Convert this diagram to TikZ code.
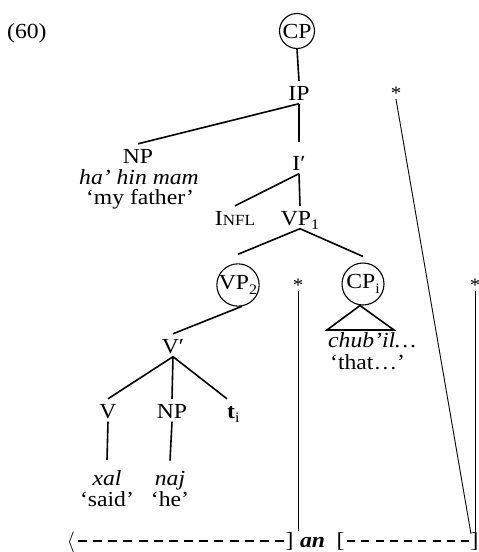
\documentclass[tikz,border=0pt]{standalone}
\usepackage{fontspec}
\setmainfont{Liberation Serif}[FakeStretch=1.1]
\newcommand\lsub[1]{\raisebox{-4.5pt}{\fontsize{14.5}{14.5}\selectfont #1}}
\begin{document}
\begin{tikzpicture}[x=1pt,y=-1pt,
  font=\fontsize{21.5}{18}\selectfont,
  cat/.style={inner xsep=0pt, inner ysep=3.5pt, text height=15.5pt, text depth=0pt, anchor=base},
  gl/.style={inner sep=0pt, anchor=base},
  circ/.style={draw, circle, line width=1.1pt, inner sep=0pt},
  edge/.style={line width=1.6pt},
  thinline/.style={line width=0.9pt},
  star/.style={inner sep=0pt, anchor=base, font=\fontsize{19}{19}\selectfont, text depth=0pt},
  dashline/.style={line width=1.4pt}
]
\useasboundingbox (0,0) rectangle (479,552);

% label
\node[gl, anchor=base west] (ex) at (7,38) {(60)};

% tree
\node[circ, minimum size=35pt] (CP) at (297,31) {CP};
\node[cat] (IP) at (299,100) {IP};
\node[cat] (NP1) at (138,163) {NP};
\node[gl] (ha) at (139,184) {\itshape ha' hin mam};
\node[gl] (myf) at (140,204) {`my father'};
\node[cat] (Ibar) at (299,170) {I\char"2032};
\node[cat] (Infl) at (235,225) {I{\fontsize{15.5}{15.5}\selectfont NFL}};
\node[cat] (VP1) at (300,225) {VP\lsub{1}};
\node[circ, minimum size=42pt] (VP2) at (238,285) {VP\lsub{2}};
\node[circ, minimum size=42pt] (CPi) at (363,284) {CP\lsub{i}};
\node[cat] (Vbar) at (173,353) {V\char"2032};
\node[cat] (V) at (108,418) {V};
\node[cat] (NP2) at (172,418) {NP};
\node[cat, anchor=base west] (ti) at (227,418) {\textbf{t}\lsub{i}};
\node[gl] (xal) at (107,485) {\itshape xal};
\node[gl] (said) at (107,506) {`said'};
\node[gl] (naj) at (170,485) {\itshape naj};
\node[gl] (he) at (170,506) {`he'};
\node[gl, anchor=base west] (chub) at (328,347) {\itshape chub'il…};
\node[gl, anchor=base west] (that) at (330,369) {`that…'};

% stars
\node[star] (s1) at (396,99) {*};
\node[star] (s2) at (298,291) {*};
\node[star] (s3) at (475,291) {*};

% bottom line
\node[gl] (lang) at (71,547) {$\langle$};
\node[gl] (rb1) at (289.5,547) {]};
\node[gl] (an) at (312.5,547) {\bfseries\itshape an};
\node[gl] (lb2) at (340.5,547) {[};
\node[gl] (rb2) at (474.5,547) {]};

\coordinate (d1a) at (78,541);
\coordinate (d1b) at (284,541);
\coordinate (d2a) at (347,541);
\coordinate (d2b) at (469,541);
\draw[dashline, dash pattern=on 9pt off 6.15pt] (d1a) -- (d1b);
\draw[dashline, dash pattern=on 8pt off 6.25pt] (d2a) -- (d2b);

% tree edges
\draw[edge] (CP.south) -- (IP.north);
\draw[edge] (IP.south) -- (NP1.north);
\draw[edge] (IP.south) -- ([yshift=9pt]Ibar.north);
\draw[edge] (Ibar.south) -- (Infl.north);
\draw[edge] (Ibar.south) -- (VP1.north);
\draw[edge] (VP1.south) -- ([yshift=9pt]VP2.north);
\draw[edge] (VP1.south) -- ([yshift=6pt]CPi.north);
\draw[edge] (VP2.-80) -- (Vbar.north);
\draw[edge] (Vbar.south) -- (V.north);
\draw[edge] (Vbar.south) -- (NP2.north);
\draw[edge] (Vbar.south) -- (ti.north west);
\draw[edge] (V.south) -- ([yshift=10pt]xal.north);
\draw[edge] (NP2.south) -- ([yshift=10pt]naj.north);

% triangle
\coordinate (tl) at (327,330);
\coordinate (tr) at (394,330);
\draw[edge, line join=miter] ([xshift=-3pt]CPi.south) -- (tl) -- (tr) -- cycle;

% star lines
\coordinate (e1) at (471,534);
\coordinate (e2) at (298,531);
\coordinate (e3) at (475,534);
\draw[thinline] (s1.south) -- (e1);
\draw[thinline] (s2.south) -- (e2);
\draw[thinline] (s3.south) -- (e3);
\end{tikzpicture}
\end{document}
